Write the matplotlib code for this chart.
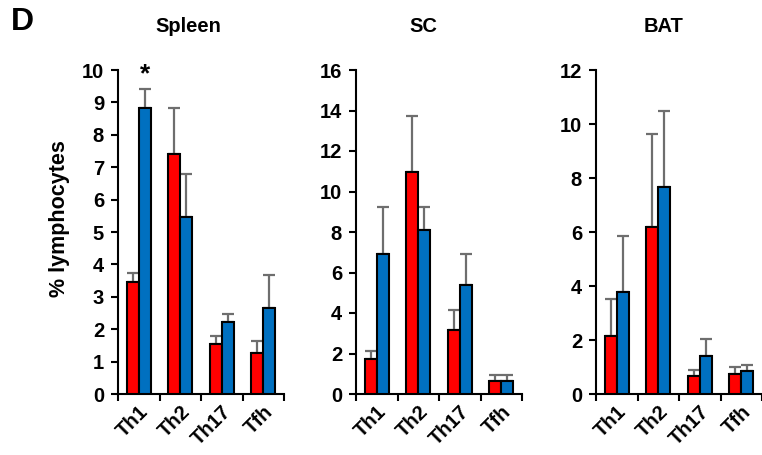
import matplotlib
matplotlib.use("Agg")
import matplotlib.pyplot as plt
from matplotlib.ticker import FixedLocator, NullFormatter

plt.rcParams['font.family'] = ['Liberation Sans', 'DejaVu Sans']
plt.rcParams['font.weight'] = 'bold'

categories = ["Th1", "Th2", "Th17", "Tfh"]
titles = ["Spleen", "SC", "BAT"]

spleen_red = [3.47, 7.41, 1.54, 1.27]
spleen_red_err = [0.28, 1.43, 0.26, 0.37]
spleen_blue = [8.82, 5.45, 2.23, 2.65]
spleen_blue_err = [0.59, 1.33, 0.25, 1.02]

sc_red = [1.71, 10.95, 3.16, 0.66]
sc_red_err = [0.43, 2.77, 0.98, 0.28]
sc_blue = [6.92, 8.09, 5.36, 0.66]
sc_blue_err = [2.29, 1.15, 1.55, 0.28]

bat_red = [2.16, 6.20, 0.65, 0.74]
bat_red_err = [1.37, 3.43, 0.25, 0.25]
bat_blue = [3.79, 7.67, 1.42, 0.85]
bat_blue_err = [2.05, 2.81, 0.63, 0.22]

ymaxes = [10, 16, 12]
ysteps = [1, 2, 2]

red_data = [spleen_red, sc_red, bat_red]
red_errs = [spleen_red_err, sc_red_err, bat_red_err]
blue_data = [spleen_blue, sc_blue, bat_blue]
blue_errs = [spleen_blue_err, sc_blue_err, bat_blue_err]

W, H = 762, 455
fig = plt.figure(figsize=(W / 100, H / 100), dpi=100)

lefts = [118, 356, 596]
ax_w = 166
bottom_px, top_px = 394, 70

RED = "#FF0000"
BLUE = "#0070C0"
ERRC = "#6E6E6E"
bw = 0.29
FS = 14.5

for k in range(3):
    ax = fig.add_axes([lefts[k] / W, 1 - bottom_px / H, ax_w / W, (bottom_px - top_px) / H])
    n = len(categories)
    centers = [i + 0.5 for i in range(n)]
    xr = [c - bw / 2 for c in centers]
    xb = [c + bw / 2 for c in centers]
    ax.bar(xr, red_data[k], width=bw, color=RED, edgecolor="black", linewidth=1.5, zorder=3,
           yerr=[[0] * n, red_errs[k]], ecolor=ERRC,
           error_kw=dict(elinewidth=1.6, capsize=4.3, capthick=1.6, zorder=2))
    ax.bar(xb, blue_data[k], width=bw, color=BLUE, edgecolor="black", linewidth=1.5, zorder=3,
           yerr=[[0] * n, blue_errs[k]], ecolor=ERRC,
           error_kw=dict(elinewidth=1.6, capsize=4.3, capthick=1.6, zorder=2))
    ax.set_xlim(0, n)
    ax.set_ylim(0, ymaxes[k])
    ax.set_yticks(range(0, ymaxes[k] + 1, ysteps[k]))
    ax.xaxis.set_major_locator(FixedLocator(range(n + 1)))
    ax.xaxis.set_major_formatter(NullFormatter())
    ax.xaxis.set_minor_locator(FixedLocator(centers))
    ax.set_xticklabels(categories, minor=True, rotation=45, ha="right", va="top",
                       rotation_mode="anchor", fontsize=FS, fontweight="bold")
    ax.tick_params(axis="x", which="minor", length=0, pad=6)
    ax.tick_params(axis="x", which="major", length=5, width=1.5, direction="out")
    ax.tick_params(axis="y", length=5, width=1.5, direction="out", labelsize=FS, pad=5)
    for lab in ax.get_yticklabels():
        lab.set_fontweight("bold")
    for s in ["top", "right"]:
        ax.spines[s].set_visible(False)
    for s in ["left", "bottom"]:
        ax.spines[s].set_linewidth(1.5)
    title_x = [188, 423, 664][k]
    fig.text(title_x / W, 1 - 26 / H, titles[k], ha="center", va="center",
             fontsize=FS, fontweight="bold")
    if k == 0:
        ax.set_ylabel("% lymphocytes", fontsize=15.5, fontweight="bold")
        ax.yaxis.set_label_coords(-0.29, 0.54)
        ax.text(xb[0], spleen_blue[0] + spleen_blue_err[0] + 0.1, "*", ha="center", va="bottom",
                fontsize=19, fontweight="bold")

fig.text(22 / W, 1 - 22 / H, "D", ha="center", va="center", fontsize=23, fontweight="bold")

fig.savefig("out.png", dpi=100)
